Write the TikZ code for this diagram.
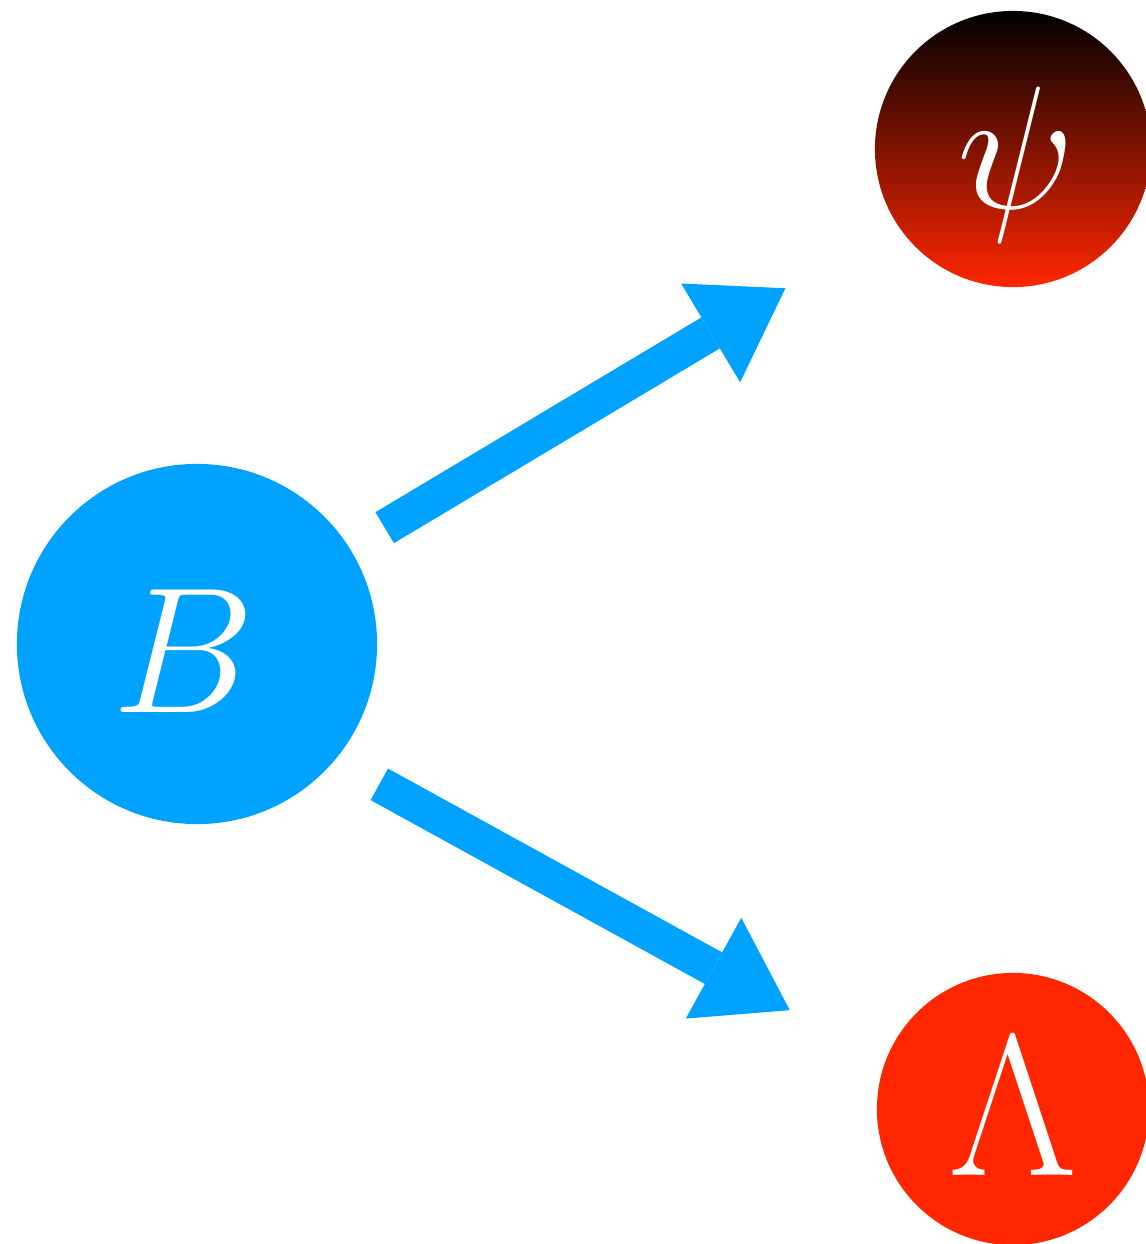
\documentclass[tikz,border=0pt]{standalone}
\usepackage{graphicx}
\usetikzlibrary{arrows.meta}
\definecolor{bblue}{HTML}{00A2FF}
\definecolor{lred}{HTML}{FF2600}
\newcommand{\ballsym}[2]{\scalebox{#1}{$#2$}}

\begin{document}
\begin{tikzpicture}[x=0.01cm,y=-0.01cm]
 \tikzset{ball/.style={circle,inner sep=0pt,text=white,text depth=0pt,font=\fontsize{24.88}{30}\selectfont},
   flow/.style={bblue,line width=0.36cm,-{Triangle[length=0.87cm,width=1.15cm,line width=0pt]}}}
 \useasboundingbox (0,0) rectangle (1146,1244);
 \node[ball,fill=bblue,minimum size=3.6cm,text height=1.36cm] (B) at (197,644) {\hspace*{-0.26cm}\ballsym{2.05}{B}};
 \node[ball,top color=black,bottom color=lred,minimum size=2.76cm,text height=1.18cm] (psi) at (1013,149) {\hspace*{0.07cm}\ballsym{2}{\psi}};
 \node[ball,fill=lred,minimum size=2.72cm,text height=1.32cm] (Lambda) at (1013,1109) {\ballsym{2.3}{\Lambda}};
 \draw[flow,shorten <=0.4cm,shorten >=1.28cm] (B.32) -- (psi.212);
 \draw[flow,shorten <=0.5cm,shorten >=1.08cm] (B.-40) -- (Lambda.160);
\end{tikzpicture}
\end{document}
